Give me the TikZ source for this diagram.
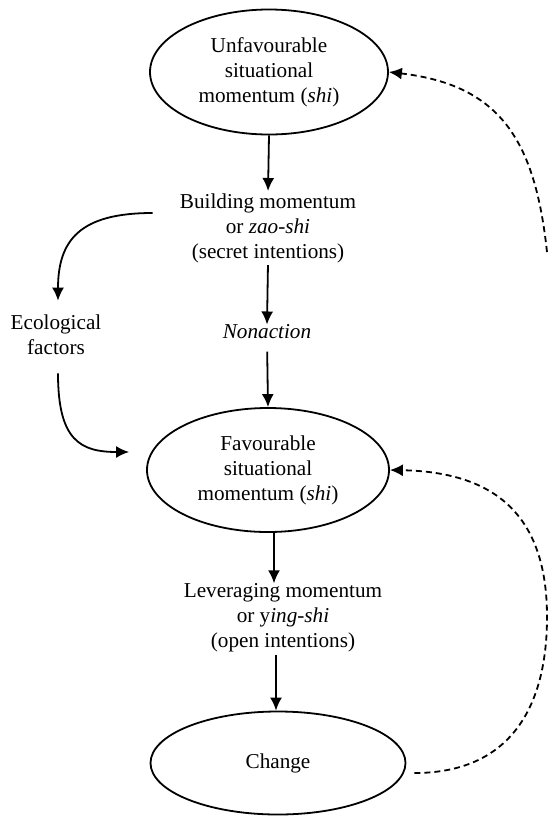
\documentclass[tikz,border=0pt]{standalone}
\usepackage{fontspec}
\setmainfont{Liberation Serif}
\usetikzlibrary{shapes.geometric,arrows.meta,calc}
\begin{document}
\begin{tikzpicture}[x=0.5pt,y=-0.5pt,
  every node/.style={font=\fontsize{10.6}{12.5}\selectfont, align=center, inner sep=0pt},
  oval/.style={ellipse, draw, line width=0.9pt},
  arr/.style={-{Latex[length=6.5pt,width=6pt]}, line width=0.9pt},
  dasharr/.style={arr, dash pattern=on 3pt off 2pt}]
\useasboundingbox (0,0) rectangle (549,820);
\node[oval, minimum width=119pt, minimum height=62.5pt] (unfav) at (269,72) {Unfavourable\\situational\\momentum (\textit{shi})};
\node (build) at (268,228) {Building momentum\\or \textit{zao-shi}\\(secret intentions)};
\node (nonact) at (267,332) {\textit{Nonaction}};
\node (eco) at (56,335) {Ecological\\factors};
\node[oval, minimum width=121pt, minimum height=62pt] (fav) at (268,470) {Favourable\\situational\\momentum (\textit{shi})};
\node (lev) at (283,618) {Leveraging momentum\\or y\textit{ing-shi}\\(open intentions)};
\node[oval, minimum width=127.5pt, minimum height=51.5pt] (chg) at (278,763) {Change};
\coordinate (topstart) at (547,252);
\coordinate (rmid) at (547,620);

\draw[arr, shorten >=1pt] (unfav.south) -- (build.north);
\draw[arr, shorten <=1pt] (build.south) -- (nonact.north);
\draw[arr, shorten <=6pt] (nonact.south) -- (fav.north);
\draw[arr] ($(fav.south)+(6,0)$) -- ($(lev.north)+(-9,0)$);
\draw[arr, shorten <=1pt] ($(lev.south)+(-7,0)$) -- ($(chg.north)+(-2,0)$);

\draw[arr] ($(build.west)+(-27,-15)$) .. controls (80,213) and (58,240) .. ($(eco.north)+(2,-14)$);
\draw[arr] ($(eco.south)+(2,18)$) .. controls (58,440) and (80,452) .. ($(fav.west)+(-17,-18)$);

\draw[dasharr] ($(chg.east)+(8,10)$) .. controls (500,773) and (546,720) .. (rmid) .. controls (548,520) and (500,472) .. (fav.east);
\draw[dasharr] (topstart) .. controls (535,140) and (500,85) .. (unfav.east);
\end{tikzpicture}
\end{document}
